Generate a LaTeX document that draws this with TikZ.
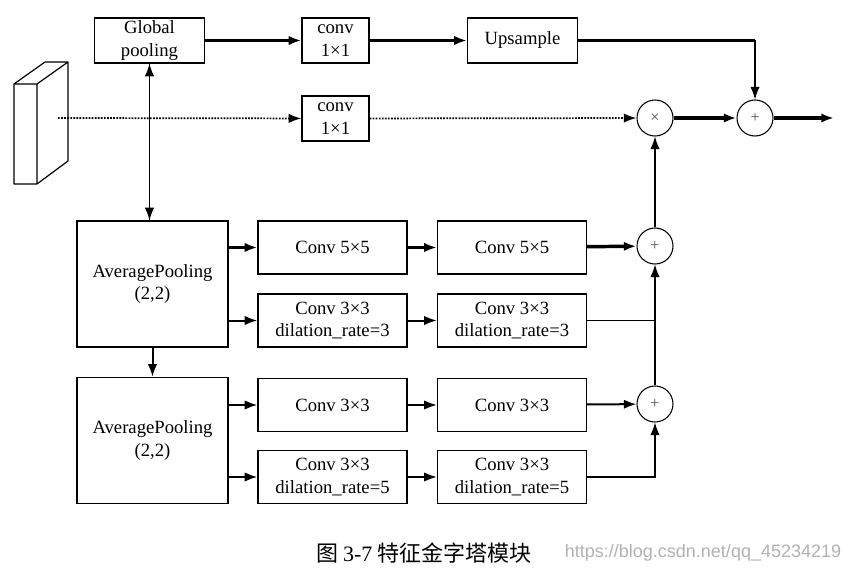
\documentclass[tikz,border=0pt]{standalone}
\usepackage{fontspec}
\setmainfont{Liberation Serif}
\newfontfamily\cjk{Noto Sans CJK SC}
\newfontfamily\wmfont{Liberation Sans}
\usepackage{tikz}
\usetikzlibrary{arrows.meta}
\tikzstyle{box}=[rectangle,draw=black,line width=0.9pt,inner sep=0pt,align=center,font=\fontsize{14}{17}\selectfont]
\tikzstyle{small}=[box,minimum width=50.25pt,minimum height=33.75pt]
\tikzstyle{wide}=[box,minimum width=82.5pt,minimum height=33.75pt]
\tikzstyle{avg}=[box,minimum width=113.25pt,minimum height=94.5pt]
\tikzstyle{conv}=[box,minimum width=111.75pt,minimum height=39.75pt]
\tikzstyle{op}=[circle,draw=black,line width=0.8pt,minimum size=27pt,inner sep=0pt,text=black!70,font=\fontsize{12}{12}\selectfont]
\tikzstyle{e}=[line width=1.5pt,arrows={-{Latex[length=9.5pt,width=7pt]}}]
\tikzstyle{e-thick}=[e,line width=2.6pt]
\tikzstyle{e-thin}=[e,line width=0.8pt]
\tikzstyle{e-dot}=[e,line width=1.3pt,densely dotted]
\tikzstyle{l-thin}=[line width=0.9pt]

\begin{document}
\begin{tikzpicture}[x=0.75pt,y=-0.75pt]
\useasboundingbox (0,0) rectangle (852,573);

% Input tensor
\draw[line width=0.9pt,line join=round] (14,84) rectangle (37,184)
      (14,84) -- (45,62) -- (68,62) -- (37,84)
      (68,62) -- (68,161) -- (37,184);

% Nodes
\node[wide]  (global pooling) at (149.5,40.5) {Global\\pooling};
\node[small] (conv top)       at (335.5,40.5) {conv\\1×1};
\node[wide]  (upsample)       at (522.5,40.5) {Upsample};
\node[small] (conv mid)       at (335.5,118.5) {conv\\1×1};
\node[op]    (mul)            at (655,118) {×};
\node[op]    (add out)        at (755,118) {+};
\coordinate  (input)          at (58,118);
\coordinate  (output)         at (834,118);

\node[avg]  (avg pool a) at (152.5,284)   {AveragePooling\\(2,2)};
\node[avg]  (avg pool b) at (152.5,440.5) {AveragePooling\\(2,2)};
\node[conv] (conv55 a)   at (332.5,247.5) {Conv 5×5};
\node[conv] (conv55 b)   at (512,247.5)   {Conv 5×5};
\node[conv] (dil3 a)     at (332.5,320.5) {Conv 3×3\\dilation\_rate=3};
\node[conv] (dil3 b)     at (512,320.5)   {Conv 3×3\\dilation\_rate=3};
\node[conv] (conv33 a)   at (332.5,405)   {Conv 3×3};
\node[conv] (conv33 b)   at (512,405)     {Conv 3×3};
\node[conv] (dil5 a)     at (332.5,477)   {Conv 3×3\\dilation\_rate=5};
\node[conv] (dil5 b)     at (512,477)     {Conv 3×3\\dilation\_rate=5};
\node[op]   (sum a)      at (655,246)     {+};
\node[op]   (sum b)      at (655,404)     {+};

\node (caption)   at (424,553) {\fontsize{16.5}{19}\selectfont\cjk 图 \rmfamily 3-7 \cjk 特征金字塔模块};
\node (watermark) at (703,553) {\fontsize{13.5}{15}\selectfont\wmfont\color{black!30}https://blog.csdn.net/qq\_45234219};

% Edges
\draw (global pooling)                edge[e-thick]    (conv top)
      (conv top)                      edge[e-thick]    (upsample)
      (upsample)                      edge[l-thin,line width=2.6pt,-] (upsample -| add out)
      (upsample -| add out)           edge[e-thin]     (add out)
      (input)                         edge[e-dot]      (conv mid)
      (conv mid)                      edge[e-dot]      (mul)
      (mul)                           edge[e-thick]    (add out)
      (add out)                       edge[e-thick]    (output)
      (global pooling |- avg pool a.north) edge[e-thin] (global pooling)
      (global pooling)                edge[e-thin]     (global pooling |- avg pool a.north)
      (avg pool a)                    edge[e]          (avg pool b)
      (avg pool a.east |- conv55 a)   edge[e-thick]    (conv55 a)
      (avg pool a.east |- dil3 a)     edge[e]          (dil3 a)
      (avg pool b.east |- conv33 a)   edge[e]          (conv33 a)
      (avg pool b.east |- dil5 a)     edge[e]          (dil5 a)
      (conv55 a)                      edge[e-thick]    (conv55 b)
      (dil3 a)                        edge[e]          (dil3 b)
      (conv33 a)                      edge[e]          (conv33 b)
      (dil5 a)                        edge[e]          (dil5 b)
      (conv55 b)                      edge[e-thick]    (sum a)
      (dil3 b)                        edge[l-thin]     (dil3 b -| sum a)
      (conv33 b)                      edge[e]          (sum b)
      (sum b)                         edge[e-thin]     (sum a)
      (sum a)                         edge[e-thin]     (mul);
\draw[e-thin] (dil5 b) -| (sum b);

\end{tikzpicture}
\end{document}
